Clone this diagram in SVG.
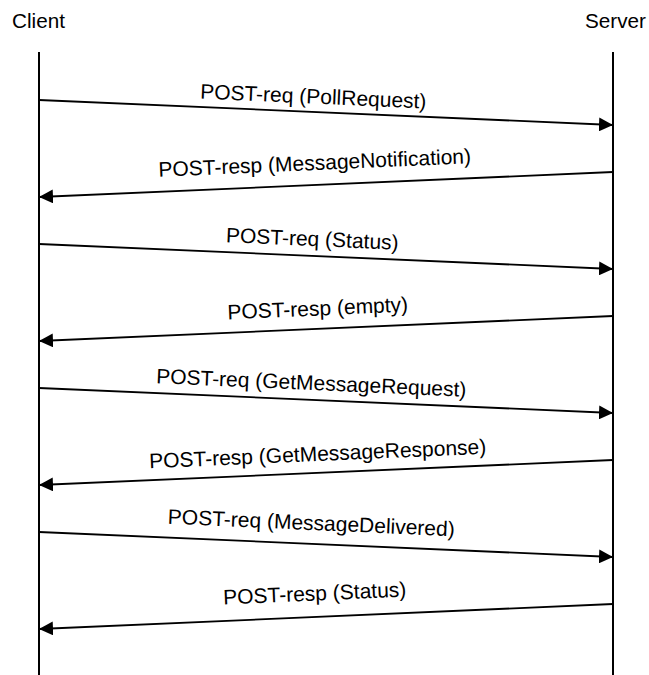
<svg xmlns="http://www.w3.org/2000/svg" width="649" height="675" viewBox="0 0 649 675">
<style>
.hdr{font-family:"Liberation Sans",Arial,sans-serif;font-size:20.7px;fill:#000}
.lbl{font-family:"Liberation Sans",Arial,sans-serif;font-size:21px;fill:#000;text-anchor:middle}
.life{stroke:#000;stroke-width:2;fill:none}
.msg{stroke:#000;stroke-width:1.8;fill:none;marker-end:url(#ah)}
</style>
<defs>
<marker id="ah" markerUnits="userSpaceOnUse" markerWidth="14" markerHeight="14" refX="14" refY="7" orient="auto" viewBox="0 0 14 14">
<path d="M0,0 L14,7 L0,14 z" fill="#000"/>
</marker>
</defs>
<rect width="649" height="675" fill="#fff"/>
<g id="client">
<text class="hdr" x="12" y="28">Client</text>
<line class="life" x1="39" y1="52" x2="39" y2="675"/>
</g>
<g id="server">
<text class="hdr" x="585" y="28">Server</text>
<line class="life" x1="613" y1="52" x2="613" y2="675"/>
</g>
<g id="connectors">
<line class="msg" x1="39" y1="100" x2="613" y2="125"/>
<text class="lbl" transform="translate(313,103.5) rotate(2.5)">POST-req (PollRequest)</text>
<line class="msg" x1="613" y1="172" x2="39" y2="197"/>
<text class="lbl" transform="translate(315,170) rotate(-2.5)">POST-resp (MessageNotification)</text>
<line class="msg" x1="39" y1="244" x2="613" y2="269"/>
<text class="lbl" transform="translate(312,246) rotate(2.5)">POST-req (Status)</text>
<line class="msg" x1="613" y1="316" x2="39" y2="341"/>
<text class="lbl" transform="translate(318,315.5) rotate(-2.5)">POST-resp (empty)</text>
<line class="msg" x1="39" y1="388" x2="613" y2="413"/>
<text class="lbl" transform="translate(311,390) rotate(2.5)">POST-req (GetMessageRequest)</text>
<line class="msg" x1="613" y1="460" x2="39" y2="485"/>
<text class="lbl" transform="translate(318,461) rotate(-2.5)">POST-resp (GetMessageResponse)</text>
<line class="msg" x1="39" y1="532" x2="613" y2="557"/>
<text class="lbl" transform="translate(311,530) rotate(2.5)">POST-req (MessageDelivered)</text>
<line class="msg" x1="613" y1="604" x2="39" y2="629"/>
<text class="lbl" transform="translate(315,600.5) rotate(-2.5)">POST-resp (Status)</text>
</g>
</svg>
